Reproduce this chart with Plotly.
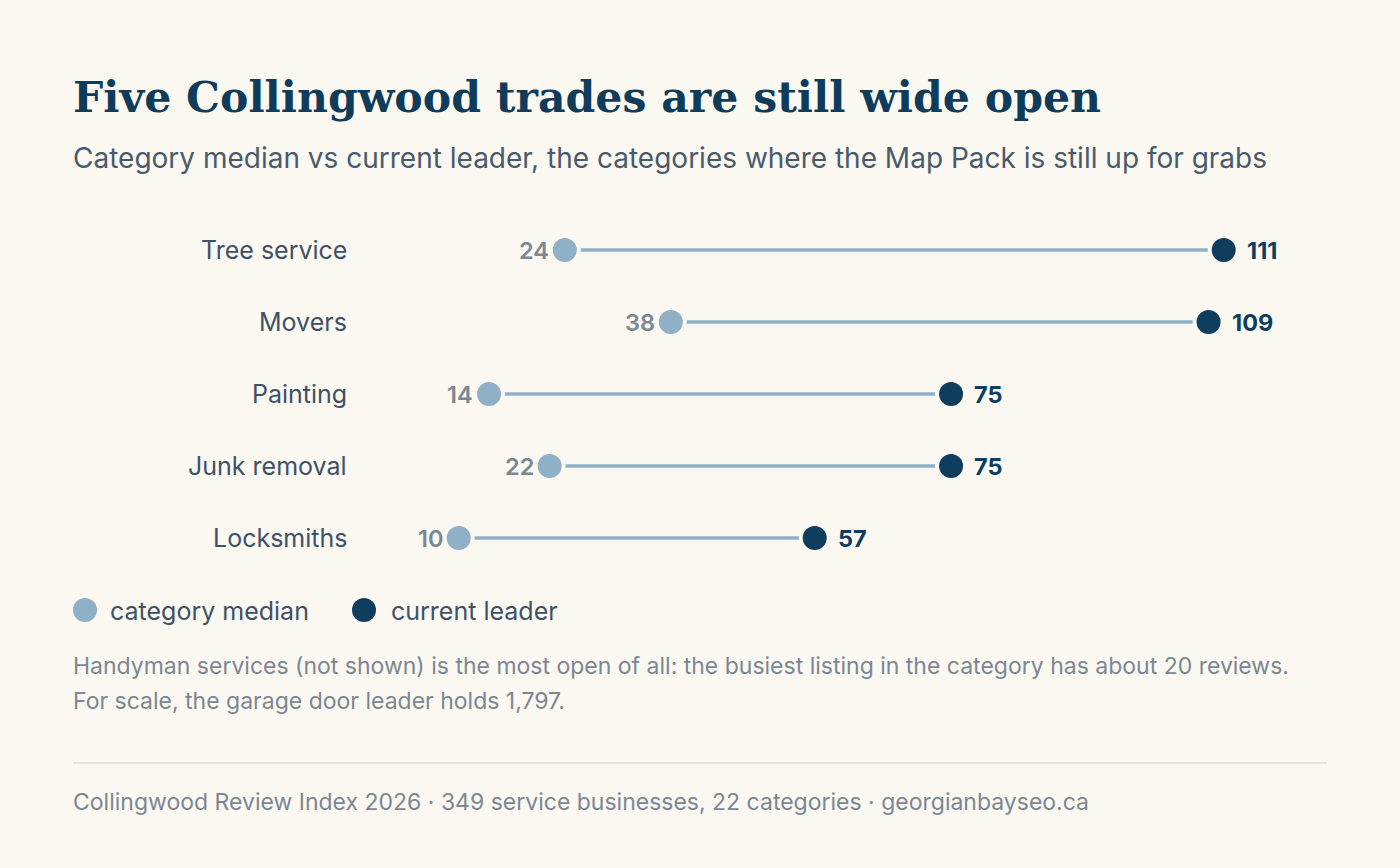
import plotly.graph_objects as go

categories = ["Tree service", "Movers", "Painting", "Junk removal", "Locksmiths"]
median_vals = [24, 38, 14, 22, 10]
leader_vals = [111, 109, 75, 75, 57]

BG = "#fbf8f2"
C_MED = "#8fb0c6"
C_LEAD = "#0f3d5e"
C_TITLE = "#103c5c"
C_LABEL = "#3e5166"
C_GRAY = "#7b8792"

W, H = 1400, 868
ML, MR, MT, MB = 383, 73, 214, 294
PW, PH = W - ML - MR, H - MT - MB


def px(x):
    return (x - ML) / PW


def py(y):
    return (H - MB - y) / PH


fig = go.Figure()

# connecting lines
for i, c in enumerate(categories):
    fig.add_trace(go.Scatter(
        x=[median_vals[i], leader_vals[i]], y=[c, c], mode="lines",
        line=dict(color=C_MED, width=3.5), showlegend=False, hoverinfo="skip"))

fig.add_trace(go.Scatter(
    x=median_vals, y=categories, mode="markers", name="category median",
    marker=dict(size=28, color=C_MED, line=dict(color=BG, width=4)),
    showlegend=False))
fig.add_trace(go.Scatter(
    x=leader_vals, y=categories, mode="markers", name="current leader",
    marker=dict(size=28, color=C_LEAD, line=dict(color=BG, width=4)),
    showlegend=False))

ann = []
for i, c in enumerate(categories):
    ann.append(dict(x=median_vals[i], y=c, xref="x", yref="y", text=str(median_vals[i]),
                    xanchor="right", yanchor="middle", xshift=-14, showarrow=False,
                    font=dict(family="Inter", size=23.5, color=C_GRAY, weight=600)))
    ann.append(dict(x=leader_vals[i], y=c, xref="x", yref="y", text=str(leader_vals[i]),
                    xanchor="left", yanchor="middle", xshift=21, showarrow=False,
                    font=dict(family="Inter", size=23.5, color=C_LEAD, weight=700)))
    ann.append(dict(x=0, y=c, xref="x", yref="y", text=c,
                    xanchor="right", yanchor="middle", xshift=-34, showarrow=False,
                    font=dict(family="Inter", size=25, color=C_LABEL)))

ann.append(dict(x=px(71), y=py(97), xref="paper", yref="paper",
                text="<b>Five Collingwood trades are still wide open</b>",
                xanchor="left", yanchor="middle", showarrow=False,
                font=dict(family="DejaVu Serif", size=42.6, color=C_TITLE)))
ann.append(dict(x=px(71), y=py(158), xref="paper", yref="paper",
                text="Category median vs current leader, the categories where the Map Pack is still up for grabs",
                xanchor="left", yanchor="middle", showarrow=False,
                font=dict(family="Inter", size=28, color="#4a5a6b")))
# legend
ann.append(dict(x=px(108), y=py(611), xref="paper", yref="paper", text="category median",
                xanchor="left", yanchor="middle", showarrow=False,
                font=dict(family="Inter", size=25, color=C_LABEL)))
ann.append(dict(x=px(389), y=py(611), xref="paper", yref="paper", text="current leader",
                xanchor="left", yanchor="middle", showarrow=False,
                font=dict(family="Inter", size=25, color=C_LABEL)))
# footnote
ann.append(dict(x=px(71), y=py(666), xref="paper", yref="paper",
                text="Handyman services (not shown) is the most open of all: the busiest listing in the category has about 20 reviews.",
                xanchor="left", yanchor="middle", showarrow=False,
                font=dict(family="Inter", size=23, color=C_GRAY)))
ann.append(dict(x=px(71), y=py(701), xref="paper", yref="paper",
                text="For scale, the garage door leader holds 1,797.",
                xanchor="left", yanchor="middle", showarrow=False,
                font=dict(family="Inter", size=23, color=C_GRAY)))
ann.append(dict(x=px(71), y=py(802), xref="paper", yref="paper",
                text="Collingwood Review Index 2026 · 349 service businesses, 22 categories · georgianbayseo.ca",
                xanchor="left", yanchor="middle", showarrow=False,
                font=dict(family="Inter", size=23, color=C_GRAY)))

shapes = [
    dict(type="circle", xref="paper", yref="paper", xsizemode="pixel", ysizemode="pixel",
         xanchor=px(85), yanchor=py(610), x0=-12, x1=12, y0=-12, y1=12,
         fillcolor=C_MED, line=dict(width=0)),
    dict(type="circle", xref="paper", yref="paper", xsizemode="pixel", ysizemode="pixel",
         xanchor=px(364), yanchor=py(610), x0=-12, x1=12, y0=-12, y1=12,
         fillcolor=C_LEAD, line=dict(width=0)),
    dict(type="line", xref="paper", yref="paper", x0=px(73), x1=px(1327), y0=py(763), y1=py(763),
         line=dict(color="#e4dfd0", width=1.5)),
]

fig.update_layout(
    width=W, height=H, paper_bgcolor=BG, plot_bgcolor=BG,
    margin=dict(l=ML, r=MR, t=MT, b=MB),
    xaxis=dict(range=[0, PW / 7.574], visible=False, fixedrange=True),
    yaxis=dict(categoryorder="array", categoryarray=categories, range=[4.5, -0.5],
               visible=False, fixedrange=True),
    annotations=ann, shapes=shapes, showlegend=False,
    font=dict(family="Inter"),
)

fig.write_html("out.html", config={"displayModeBar": False})
